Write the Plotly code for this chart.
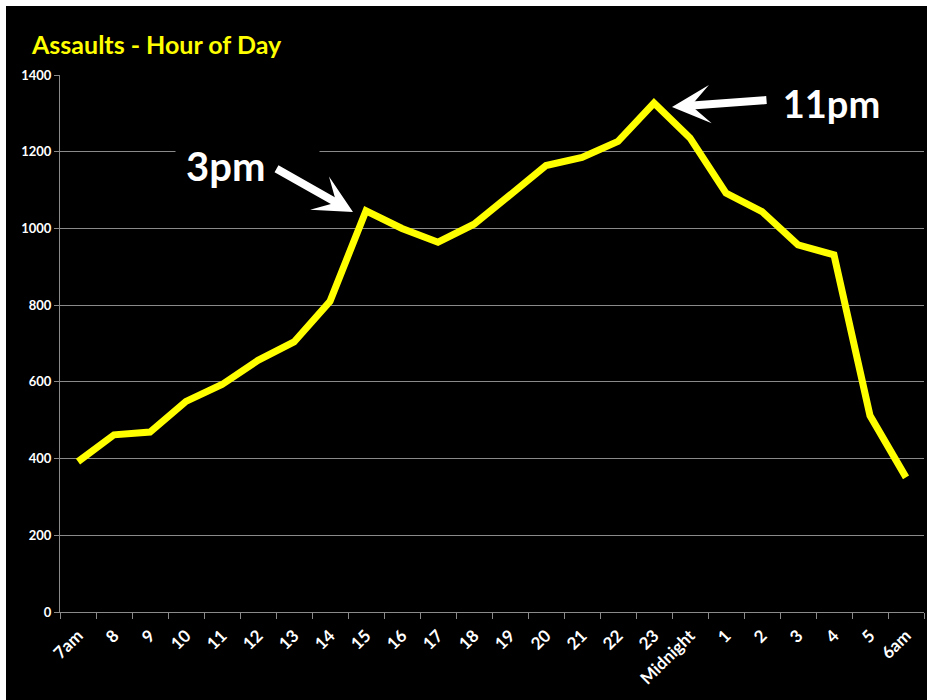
import plotly.graph_objects as go

categories = ["7am", "8", "9", "10", "11", "12", "13", "14", "15", "16", "17", "18",
              "19", "20", "21", "22", "23", "Midnight", "1", "2", "3", "4", "5", "6am"]
assaults = [392, 462, 469, 549, 593, 656, 704, 810, 1046, 1000, 964, 1011,
            1087, 1164, 1185, 1227, 1327, 1236, 1092, 1044, 957, 931, 512, 351]
y_ticks = [0, 200, 400, 600, 800, 1000, 1200, 1400]

W, H = 927, 700
L, R, T, B = 60, 3, 75, 88
PW, PH = W - L - R, H - T - B


def px(x):
    return (x - L) / PW


def py(y):
    return (H - B - y) / PH


FONT = "Lato, 'Open Sans', sans-serif"
GRID = "#8a8a8a"

fig = go.Figure()
fig.add_trace(go.Scatter(
    x=categories, y=assaults, mode="lines",
    line=dict(color="#FFFF00", width=7),
    hoverinfo="skip", showlegend=False,
))

annotations = [
    dict(text="3pm", xref="paper", yref="paper", x=px(175), y=py(166),
         xanchor="left", yanchor="middle", showarrow=False, align="left",
         width=123, borderpad=10, bgcolor="#000000",
         font=dict(family=FONT, size=40, color="#FFFFFF", weight="bold")),
    dict(text="11pm", xref="paper", yref="paper", x=px(831), y=py(103),
         xanchor="center", yanchor="middle", showarrow=False,
         width=103, borderpad=10, bgcolor="#000000",
         font=dict(family=FONT, size=38, color="#FFFFFF", weight="bold")),
    dict(text="", xref="paper", yref="paper", x=px(353), y=py(212),
         ax=-78, ay=-44, showarrow=True, arrowhead=3, arrowsize=0.8,
         arrowwidth=8, arrowcolor="#FFFFFF"),
    dict(text="", xref="paper", yref="paper", x=px(672), y=py(107),
         ax=96, ay=-7, showarrow=True, arrowhead=3, arrowsize=0.8,
         arrowwidth=8, arrowcolor="#FFFFFF"),
]

shapes = [
    dict(type="rect", xref="paper", yref="paper",
         x0=px(0), x1=px(6), y0=py(H), y1=py(0),
         fillcolor="#FFFFFF", line=dict(width=0), layer="above"),
    dict(type="rect", xref="paper", yref="paper",
         x0=px(0), x1=px(W), y0=py(6), y1=py(0),
         fillcolor="#FFFFFF", line=dict(width=0), layer="above"),
]

fig.update_layout(
    width=W, height=H,
    margin=dict(l=L, r=R, t=T, b=B),
    paper_bgcolor="#000000", plot_bgcolor="#000000",
    title=dict(text="Assaults - Hour of Day", xref="container", yref="container",
               x=32 / W, y=1 - 45 / H, xanchor="left", yanchor="middle",
               font=dict(family=FONT, size=25, color="#FFFF00", weight="bold")),
    xaxis=dict(
        type="category", range=[-0.5, len(categories) - 0.5],
        tickson="boundaries", ticks="outside", ticklen=6,
        tickcolor=GRID, showline=True, linecolor=GRID, linewidth=1,
        showgrid=False, tickangle=-45, ticklabelstandoff=6,
        tickfont=dict(family=FONT, size=17, color="#FFFFFF", weight="bold"),
    ),
    yaxis=dict(
        range=[0, 1400], tickvals=y_ticks, ticks="outside", ticklen=5,
        tickcolor=GRID, showline=True, linecolor=GRID, linewidth=1,
        showgrid=True, gridcolor=GRID, gridwidth=1, zeroline=False,
        tickfont=dict(family=FONT, size=13, color="#FFFFFF", weight="bold"),
    ),
    annotations=annotations,
    shapes=shapes,
)

fig.write_html(
    "out.html",
    config={"displayModeBar": False},
    post_script="document.body.style.margin='0';document.body.style.overflow='hidden';",
)
